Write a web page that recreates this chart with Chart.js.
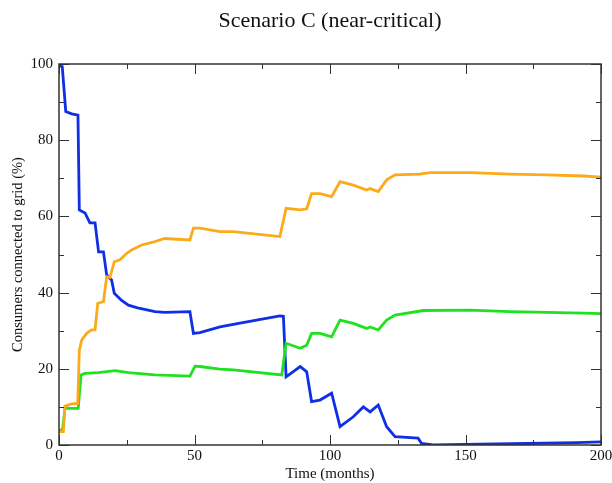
<!DOCTYPE html>
<html>
<head>
<meta charset="utf-8">
<script src="https://cdn.jsdelivr.net/npm/chart.js@4.4.1/dist/chart.umd.min.js"></script>
<style>
  html, body { margin: 0; padding: 0; background: #fff; }
  #box { width: 612px; height: 483px; }
</style>
</head>
<body>
<div id="box"><canvas id="grafico"></canvas></div>
<script>
// dados (meses, %)
const tempoAzul = [0, 1.2, 2.5, 4.7, 7.0, 7.5, 9.6, 11.4, 13.3, 14.6, 16.4, 17.6, 19.4, 20.4, 23, 25.6, 29, 35.4, 39, 48.3, 49.6, 52, 59.4, 66.8, 81.5, 82.8, 83.8, 89, 91.4, 93.2, 96.3, 100.6, 103.7, 108.6, 112.3, 114.8, 117.8, 120.9, 124, 132.5, 133.8, 138, 172.6, 191, 200];
const valoresAzul = [99.5, 99.3, 87.5, 86.9, 86.6, 61.7, 60.9, 58.3, 58.3, 50.7, 50.7, 44.6, 43.3, 39.8, 38, 36.7, 36, 35, 34.8, 35, 29.3, 29.5, 31, 32, 33.9, 33.8, 17.9, 20.6, 19.2, 11.4, 11.8, 13.6, 4.8, 7.4, 10, 8.7, 10.5, 4.8, 2.2, 1.8, 0.4, 0, 0.4, 0.6, 0.8];

const tempoLaranja = [0, 1.6, 2.2, 4.7, 6.9, 7.5, 8.4, 10.2, 12, 13.3, 14.3, 16.4, 17.6, 18.8, 20.4, 22.5, 25, 26.8, 30.5, 35.4, 39, 48.3, 49.6, 52, 59.4, 64.3, 81.5, 83.8, 89, 91.4, 93.2, 96.3, 100.6, 103.7, 108.6, 113.5, 114.8, 117.8, 120.9, 124, 133, 137, 151.7, 166.4, 180, 193.5, 200];
const valoresLaranja = [3.5, 3.5, 10.2, 10.8, 10.9, 24.9, 27.6, 29.3, 30.2, 30.2, 37.2, 37.6, 44.2, 44, 48.1, 48.6, 50.3, 51.2, 52.5, 53.4, 54.2, 53.8, 56.9, 56.9, 56, 56, 54.7, 62.1, 61.7, 62, 66, 66, 65.2, 69.1, 68.2, 66.9, 67.3, 66.5, 69.6, 70.9, 71.1, 71.5, 71.5, 71.1, 70.9, 70.6, 70.3];

const tempoVerde = [0, 1.3, 2.2, 7.1, 8.1, 9.6, 14.5, 20.7, 25.6, 35.4, 48.3, 50.2, 52, 59.4, 64.3, 82.2, 83.8, 89, 91.4, 93.2, 96.3, 100.6, 103.7, 108.6, 113.5, 114.8, 117.8, 120.9, 124, 134.5, 151.7, 166.4, 180, 193.5, 200];
const valoresVerde = [3.9, 3.9, 9.6, 9.6, 18.4, 18.8, 19, 19.5, 19, 18.4, 18.1, 20.7, 20.6, 19.9, 19.7, 18.4, 26.7, 25.4, 26.2, 29.3, 29.3, 28.4, 32.8, 31.9, 30.6, 31, 30.2, 32.8, 34.1, 35.3, 35.4, 35, 34.8, 34.6, 34.5];

const ticksX = [0, 50, 100, 150, 200];
const ticksXmenor = [25, 75, 125, 175];
const ticksY = [0, 20, 40, 60, 80, 100];
const ticksYmenor = [10, 30, 50, 70, 90];

function pontos(xs, ys) {
    return xs.map((x, i) => ({ x: x, y: ys[i] }));
}

const fonte = "'Liberation Serif', 'DejaVu Serif', serif";

// tracinhos para dentro nos quatro lados + moldura
const moldura = {
    id: 'moldura',
    afterDatasetsDraw(chart) {
        const c = chart.ctx;
        const a = chart.chartArea;
        const sx = chart.scales.x;
        const sy = chart.scales.y;
        c.save();
        c.strokeStyle = '#333';
        c.lineWidth = 1;
        c.beginPath();
        const marca = (lista, tam) => {
            lista.forEach(v => {
                const px = Math.round(sx.getPixelForValue(v)) + 0.5;
                c.moveTo(px, a.bottom); c.lineTo(px, a.bottom - tam);
                c.moveTo(px, a.top); c.lineTo(px, a.top + tam);
            });
        };
        const marcaY = (lista, tam) => {
            lista.forEach(v => {
                const py = Math.round(sy.getPixelForValue(v)) + 0.5;
                c.moveTo(a.left, py); c.lineTo(a.left + tam, py);
                c.moveTo(a.right, py); c.lineTo(a.right - tam, py);
            });
        };
        marca(ticksX, 10);
        marca(ticksXmenor, 5);
        marcaY(ticksY, 10);
        marcaY(ticksYmenor, 5);
        c.stroke();
        c.lineWidth = 1.5;
        c.strokeRect(a.left, a.top, a.right - a.left, a.bottom - a.top);
        c.restore();
    }
};

const ctx = document.getElementById('grafico').getContext('2d');

new Chart(ctx, {
    type: 'line',
    data: {
        datasets: [
            {
                label: 'Laranja',
                data: pontos(tempoLaranja, valoresLaranja),
                borderColor: '#fbaa1a',
                borderWidth: 2.8,
                pointRadius: 0,
                tension: 0
            },
            {
                label: 'Verde',
                data: pontos(tempoVerde, valoresVerde),
                borderColor: '#1ee21e',
                borderWidth: 2.8,
                pointRadius: 0,
                tension: 0
            },
            {
                label: 'Azul',
                data: pontos(tempoAzul, valoresAzul),
                borderColor: '#0f2fe6',
                borderWidth: 2.8,
                pointRadius: 0,
                tension: 0
            }
        ]
    },
    options: {
        responsive: true,
        maintainAspectRatio: false,
        animation: false,
        layout: { padding: { top: 0, right: 11, left: 0, bottom: 0 } },
        plugins: {
            legend: { display: false },
            tooltip: { enabled: false },
            title: {
                display: true,
                fullSize: false,
                text: 'Scenario C (near-critical)',
                color: '#111',
                font: { family: fonte, size: 22, weight: 'normal' },
                padding: { top: 8, bottom: 29.6 }
            }
        },
        scales: {
            x: {
                type: 'linear',
                min: 0,
                max: 200,
                afterBuildTicks: (s) => { s.ticks = ticksX.map(v => ({ value: v })); },
                afterFit: (s) => { s.height = 38; s.paddingRight = 0; s.paddingLeft = 0; },
                grid: { display: false, drawTicks: false },
                border: { display: false },
                ticks: { color: '#111', font: { family: fonte, size: 15 }, padding: 2, maxRotation: 0 },
                title: {
                    display: true,
                    text: 'Time (months)',
                    color: '#111',
                    font: { family: fonte, size: 15 },
                    padding: { top: 0, bottom: 0 }
                }
            },
            y: {
                min: 0,
                max: 100,
                afterBuildTicks: (s) => { s.ticks = ticksY.map(v => ({ value: v })); },
                afterFit: (s) => { s.width = 59; },
                grid: { display: false, drawTicks: false },
                border: { display: false },
                ticks: { color: '#111', font: { family: fonte, size: 15 }, padding: 6 },
                title: {
                    display: true,
                    text: 'Consumers connected to grid (%)',
                    color: '#111',
                    font: { family: fonte, size: 14.5 },
                    padding: { top: 9, bottom: 4 }
                }
            }
        }
    },
    plugins: [moldura]
});
</script>
</body>
</html>
